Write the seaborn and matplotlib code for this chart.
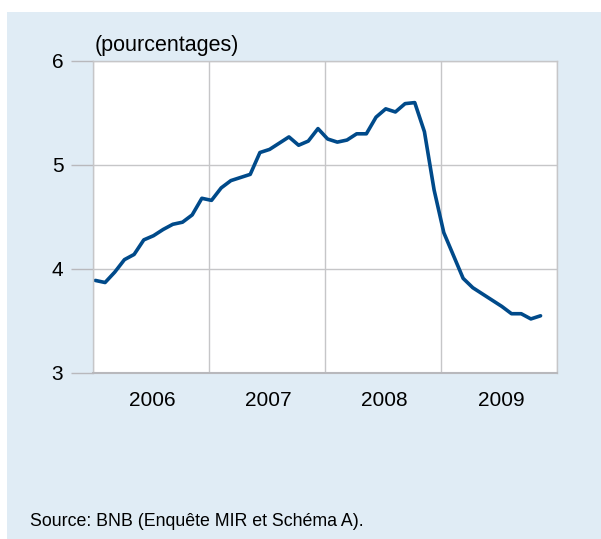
import numpy as np
import pandas as pd
import matplotlib
matplotlib.use("Agg")
import matplotlib.pyplot as plt
from matplotlib.patches import Rectangle
import seaborn as sns

# --- Data (monthly, Jan 2006 - Nov 2009) ---
months = pd.date_range("2006-01-01", periods=47, freq="MS")
taux = [3.89, 3.87, 3.97, 4.09, 4.14, 4.28, 4.32, 4.38, 4.43, 4.45, 4.52, 4.68,
        4.66, 4.78, 4.85, 4.88, 4.91, 5.12, 5.15, 5.21, 5.27, 5.19, 5.23, 5.35,
        5.25, 5.22, 5.24, 5.30, 5.30, 5.46, 5.54, 5.51, 5.59, 5.60, 5.32, 4.76,
        4.35, 4.13, 3.91, 3.82, 3.76, 3.70, 3.64, 3.57, 3.57, 3.52, 3.55]
years = ["2006", "2007", "2008", "2009"]
yticks = [3, 4, 5, 6]

BG = "#e0ecf5"
LINE = "#004a8a"
GRID = "#c6c6c8"
TICK = "#b8b8bc"

df = pd.DataFrame({"mois": months, "taux": taux})
# position in months from start of 2006, point drawn slightly inside the month
df["x"] = np.arange(len(df)) + 0.3

sns.set_style("white")
plt.rcParams["font.family"] = ["Liberation Sans", "DejaVu Sans"]
plt.rcParams["text.color"] = "black"

fig = plt.figure(figsize=(6.01, 5.39), dpi=100)
fig.patch.set_facecolor("white")
fig.patches.append(Rectangle((7 / 601, 0), 1, 1 - 12 / 539, transform=fig.transFigure,
                             facecolor=BG, edgecolor="none", zorder=-10))

ax = fig.add_axes([92.5 / 601, 1 - 373 / 539, (557 - 92.5) / 601, (373 - 61) / 539])
ax.set_facecolor("white")

sns.lineplot(data=df, x="x", y="taux", ax=ax, color=LINE, linewidth=2.6)

ax.set_xlim(0, 48)
ax.set_ylim(3, 6)

# year boundaries as ticks + gridlines, labels centred in each year
ax.set_xticks([0, 12, 24, 36, 48])
ax.set_xticklabels([])
ax.set_xticks([6.2, 18.2, 30.2, 42.2], minor=True)
ax.set_xticklabels(years, minor=True)
ax.tick_params(axis="x", which="major", length=9, width=1, color=TICK, direction="out")
ax.tick_params(axis="x", which="minor", length=0, pad=13, labelsize=15, labelcolor="black")

ax.set_yticks(yticks)
ax.set_yticklabels([str(v) for v in yticks])
ax.tick_params(axis="y", length=16, width=1, color=TICK, pad=5, labelsize=15,
               labelcolor="black", left=True)

ax.grid(True, which="major", color=GRID, linewidth=1)
ax.set_axisbelow(True)

for side in ["top", "right", "left"]:
    ax.spines[side].set_color(GRID)
    ax.spines[side].set_linewidth(1)
ax.spines["bottom"].set_color(TICK)
ax.spines["bottom"].set_linewidth(1.5)

ax.set_xlabel("")
ax.set_ylabel("")

fig.text(95 / 601, 1 - 46 / 539, "(pourcentages)", fontsize=15.5, ha="left", va="center")
fig.text(30 / 601, 1 - 521 / 539, "Source: BNB (Enquête MIR et Schéma A).", fontsize=12.8,
         ha="left", va="center")

fig.savefig("out.png", dpi=100, facecolor=fig.get_facecolor())
